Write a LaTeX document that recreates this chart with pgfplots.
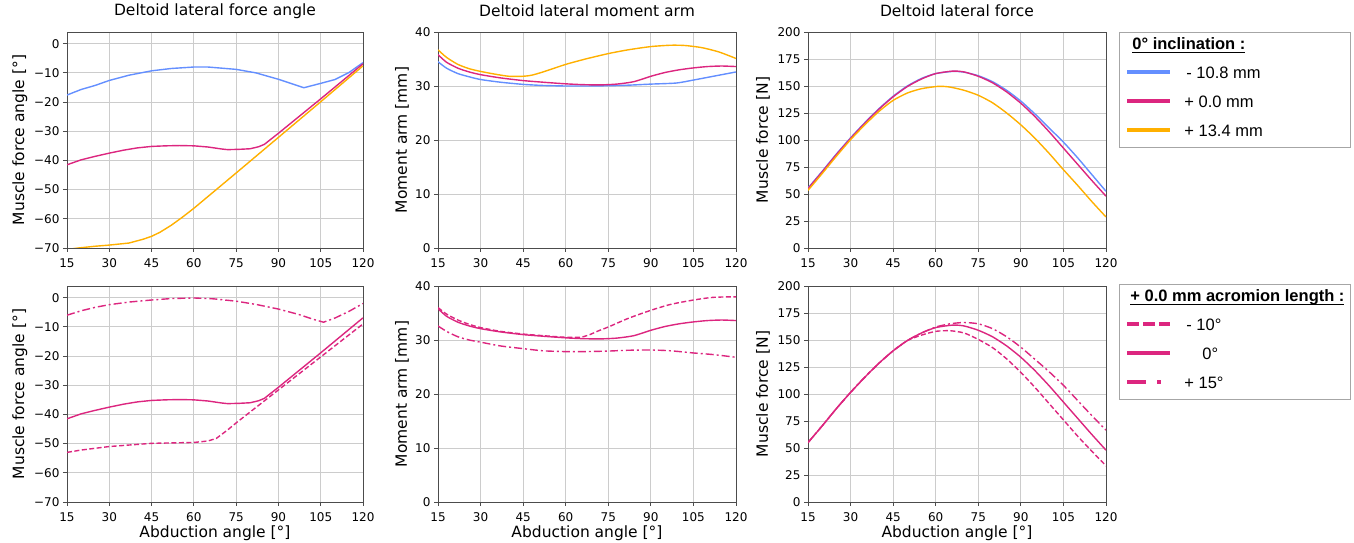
\documentclass[border=0pt]{standalone}
\usepackage{pgfplots}
\pgfplotsset{compat=1.18}
\usepackage{fontspec}
\setmainfont{DejaVu Sans}
\newfontfamily\arial{Liberation Sans}
\definecolor{cblue}{HTML}{648FFF}
\definecolor{cpink}{HTML}{DC267F}
\definecolor{corange}{HTML}{FFB000}
\newcommand\ulx[1]{\setbox0\hbox{#1}\rlap{\rule[-3pt]{\wd0}{1.3pt}}\box0}
\newcommand\ent[1]{\raisebox{0pt}[14.5pt][2.5pt]{\makebox[160pt][l]{#1}}}
\newcommand\ttl[2]{\raisebox{0pt}[8.5pt][-1.5pt]{\makebox[160pt][l]{\hspace*{#1}\ulx{\bfseries #2}}}}
\pgfplotsset{
  base/.style={scale only axis, width=297pt, height=216pt,
    xmin=15, xmax=120, xtick={15,30,...,120},
    grid=major, grid style={draw=black!20, line width=0.9pt},
    axis line style={draw=black!70, line width=0.9pt},
    tick style={draw=black!70, line width=0.9pt},
    tick align=outside, major tick length=4pt, tick pos=left,
    tick label style={font=\fontsize{12}{13}\selectfont},
    xticklabel style={yshift=-3pt},
    label style={font=\fontsize{15.5}{18}\selectfont},
    title style={font=\fontsize{15.5}{18}\selectfont, at={(axis description cs:0.5,1)}, anchor=center, yshift=15pt},
    xlabel style={at={(axis description cs:0.5,0)}, anchor=center, yshift=-31pt},
    /pgf/number format/assume math mode=true,
    every axis plot/.append style={line width=1.4pt},
  },
  angle/.style={ymin=-70, ymax=4, ytick={-70,-60,...,0},
    yticklabels={−70,−60,−50,−40,−30,−20,−10,0},
    ylabel={Muscle force angle [°]},
    ylabel style={at={(axis description cs:-0.159,0.5)}, anchor=center}},
  marm/.style={ymin=0, ymax=40, ytick={0,10,...,40},
    ylabel={Moment arm [mm]},
    ylabel style={at={(axis description cs:-0.121,0.5)}, anchor=center}},
  mforce/.style={ymin=0, ymax=200, ytick={0,25,...,200},
    ylabel={Muscle force [N]},
    ylabel style={at={(axis description cs:-0.151,0.5)}, anchor=center}},
  leg/.style={legend image code/.code={\draw[##1] (0pt,0pt) -- (43pt,0pt);},
    legend style={anchor=north west, draw=black!35, line width=0.8pt,
      inner xsep=6pt, inner ysep=9pt, column sep=12pt, row sep=13pt,
      font=\arial\fontsize{16.5}{19}\selectfont, nodes={inner sep=0pt}, cells={anchor=west}}},
  dsh/.style={dash pattern=on 5pt off 2.5pt},
  dshd/.style={dash pattern=on 8pt off 3pt on 2pt off 3pt},
}
\begin{document}
\begin{tikzpicture}
\useasboundingbox (0,0) rectangle (1354pt,543pt);
% ---------------- top left
\begin{axis}[base, angle, at={(67pt,295pt)}, anchor=south west, width=296pt,
  title={Deltoid lateral force angle}]
\addplot[cblue] coordinates {(15,-17.6)(20,-15.7)(25,-14.3)(30,-12.6)(37,-10.8)(45,-9.3)(52,-8.5)(60,-8.0)(65,-8.0)(75,-8.8)(82,-10.0)(90,-12.2)(95,-13.8)(99,-15.1)(105,-13.6)(110,-12.3)(115,-9.9)(120,-6.5)};
\addplot[cpink] coordinates {(15,-41.5)(20,-39.8)(25,-38.6)(30,-37.5)(35,-36.5)(40,-35.7)(45,-35.2)(50,-35.0)(55,-34.9)(60,-35.0)(65,-35.4)(70,-36.1)(72,-36.3)(76,-36.2)(80,-36.0)(83,-35.3)(85,-34.5)(90,-30.7)(105,-18.9)(120,-6.9)};
\addplot[corange] coordinates {(15,-70.5)(19,-70)(25,-69.4)(30,-69.0)(37,-68.3)(42,-67.0)(45,-66.0)(48,-64.6)(52,-62.2)(56,-59.4)(60,-56.4)(75,-44.3)(90,-32.1)(105,-19.9)(120,-7.6)};
\end{axis}
% ---------------- top middle
\begin{axis}[base, marm, at={(438pt,295pt)}, anchor=south west, width=298pt,
  title={Deltoid lateral moment arm}]
\addplot[cblue, smooth, tension=0.4] coordinates {(15,34.5)(18,33.3)(22,32.3)(26,31.7)(30,31.2)(37,30.7)(45,30.3)(52,30.1)(60,30.0)(67,30.0)(75,30.05)(82,30.15)(90,30.35)(99,30.55)(105,31.1)(112,31.8)(120,32.6)};
\addplot[cpink, smooth, tension=0.4] coordinates {(15,35.8)(18,34.4)(22,33.3)(26,32.6)(30,32.1)(37,31.5)(45,31.0)(52,30.7)(60,30.4)(66,30.25)(72,30.2)(78,30.35)(84,30.8)(90,31.8)(95,32.5)(100,33.0)(105,33.35)(110,33.6)(115,33.7)(120,33.6)};
\addplot[corange, smooth, tension=0.4] coordinates {(15,36.7)(18,35.3)(22,34.0)(26,33.2)(30,32.7)(35,32.2)(40,31.8)(45,31.8)(48,32.0)(52,32.6)(60,34.0)(67,35.0)(75,36.0)(82,36.7)(90,37.3)(97,37.55)(102,37.5)(108,37.1)(114,36.3)(120,35.1)};
\end{axis}
% ---------------- top right
\begin{axis}[base, mforce, leg, at={(808pt,295pt)}, anchor=south west, width=298pt,
  title={Deltoid lateral force},
  legend style={at={(axis description cs:1.0436,1)}}]
\addplot[cblue, smooth, tension=0.4, forget plot] coordinates {(15,55.5)(20,71)(25,87)(30,102)(35,116)(40,129)(45,140.5)(50,150)(55,157)(60,161.5)(66,163.5)(70,162.8)(75,159.5)(80,154)(85,146)(90,136)(95,124)(100,111)(105,98)(110,83.5)(115,68)(120,52.5)};
\addplot[cpink, smooth, tension=0.4, forget plot] coordinates {(15,55)(20,70.5)(25,86.5)(30,101.5)(35,115.5)(40,128.5)(45,140)(50,149.5)(55,156.5)(60,161.5)(66,163.8)(70,163)(75,159)(80,153)(85,144.5)(90,134)(95,121.5)(100,107.5)(105,92.5)(110,77.5)(115,62.5)(120,48)};
\addplot[corange, smooth, tension=0.4, forget plot] coordinates {(15,53.4)(20,69)(25,85)(30,100.3)(35,114)(40,126.5)(45,136.7)(50,143.5)(55,147.5)(61,149.7)(65,149)(70,146)(75,141.4)(80,134.5)(85,125)(90,114)(95,101.5)(100,87.5)(105,72.5)(110,58)(115,43)(120,28.7)};
\addlegendimage{empty legend}
\addlegendentry{\ttl{-52pt}{0° inclination :}}
\addlegendimage{cblue, line width=4pt}
\addlegendentry{\ent{\hspace*{2pt}- 10.8 mm}}
\addlegendimage{cpink, line width=4pt}
\addlegendentry{\ent{+ 0.0 mm}}
\addlegendimage{corange, line width=4pt}
\addlegendentry{\ent{+ 13.4 mm}}
\end{axis}
% ---------------- bottom left
\begin{axis}[base, angle, at={(67pt,41pt)}, anchor=south west, width=296pt,
  xlabel={Abduction angle [°]}]
\addplot[cpink, dshd] coordinates {(15,-6.0)(20,-4.5)(25,-3.3)(30,-2.4)(37,-1.5)(45,-0.8)(52,-0.3)(60,-0.1)(67,-0.4)(75,-1.2)(82,-2.3)(90,-3.9)(97,-5.7)(103,-7.6)(106,-8.4)(110,-7.0)(115,-4.7)(120,-2.0)};
\addplot[cpink] coordinates {(15,-41.5)(20,-39.8)(25,-38.6)(30,-37.5)(35,-36.5)(40,-35.7)(45,-35.2)(50,-35.0)(55,-34.9)(60,-35.0)(65,-35.4)(70,-36.1)(72,-36.3)(76,-36.2)(80,-36.0)(83,-35.3)(85,-34.5)(90,-30.7)(105,-18.9)(120,-6.9)};
\addplot[cpink, dsh] coordinates {(15,-53.0)(20,-52.2)(30,-51.0)(45,-49.9)(60,-49.6)(65,-49.1)(68,-48.2)(72,-45.3)(75,-42.9)(90,-31.6)(105,-20.3)(120,-9.0)};
\end{axis}
% ---------------- bottom middle
\begin{axis}[base, marm, at={(438pt,41pt)}, anchor=south west, width=298pt,
  xlabel={Abduction angle [°]}]
\addplot[cpink, dsh, smooth, tension=0.4] coordinates {(15,36.0)(18,34.8)(22,33.7)(26,32.9)(30,32.3)(37,31.6)(45,31.1)(52,30.8)(60,30.5)(65,30.5)(68,30.9)(72,31.8)(75,32.4)(82,34.0)(90,35.5)(97,36.6)(105,37.4)(112,37.9)(120,38.0)};
\addplot[cpink, smooth, tension=0.4] coordinates {(15,35.8)(18,34.4)(22,33.3)(26,32.6)(30,32.1)(37,31.5)(45,31.0)(52,30.7)(60,30.4)(66,30.25)(72,30.2)(78,30.35)(84,30.8)(90,31.8)(95,32.5)(100,33.0)(105,33.35)(110,33.6)(115,33.7)(120,33.6)};
\addplot[cpink, dshd, smooth, tension=0.4] coordinates {(15,32.6)(18,31.6)(22,30.6)(26,30.0)(30,29.6)(37,28.9)(45,28.4)(52,28.0)(60,27.85)(67,27.85)(75,27.95)(82,28.1)(90,28.15)(97,28.0)(105,27.6)(112,27.3)(120,26.8)};
\end{axis}
% ---------------- bottom right
\begin{axis}[base, mforce, leg, at={(808pt,41pt)}, anchor=south west, width=298pt,
  xlabel={Abduction angle [°]},
  legend style={at={(axis description cs:1.0436,1.009)}}]
\addplot[cpink, dsh, smooth, tension=0.4, forget plot] coordinates {(15,55)(20,70.5)(25,86.5)(30,101.5)(35,115.5)(40,128.5)(45,140)(50,149.5)(55,154.5)(60,158)(65,158.6)(70,156.5)(75,150.5)(80,143)(85,132.5)(90,120)(95,106)(100,91)(105,76)(110,61)(115,47)(120,33.5)};
\addplot[cpink, smooth, tension=0.4, forget plot] coordinates {(15,55)(20,70.5)(25,86.5)(30,101.5)(35,115.5)(40,128.5)(45,140)(50,149.5)(55,156.5)(60,161.5)(66,163.8)(70,163)(75,159)(80,153)(85,144.5)(90,134)(95,121.5)(100,107.5)(105,92.5)(110,77.5)(115,62.5)(120,48)};
\addplot[cpink, dshd, smooth, tension=0.4, forget plot] coordinates {(15,55)(20,70.5)(25,86.5)(30,101.5)(35,115.5)(40,128.5)(45,140)(50,149.5)(55,156.5)(60,162)(65,165)(70,166.2)(75,165)(80,160.5)(85,153)(90,143.3)(95,132)(100,120.5)(105,108)(110,94)(115,80)(120,66.5)};
\addlegendimage{empty legend}
\addlegendentry{\ttl{-54pt}{+ 0.0 mm acromion length :}}
\addlegendimage{cpink, line width=4pt, dash pattern=on 11.5pt off 4.3pt}
\addlegendentry{\ent{\hspace*{2pt}- 10°}}
\addlegendimage{cpink, line width=4pt}
\addlegendentry{\ent{\hspace*{18pt}0°}}
\addlegendimage{cpink, line width=4pt, dash pattern=on 19pt off 11pt on 3.5pt off 11pt}
\addlegendentry{\ent{+ 15°}}
\end{axis}
\end{tikzpicture}
\end{document}
